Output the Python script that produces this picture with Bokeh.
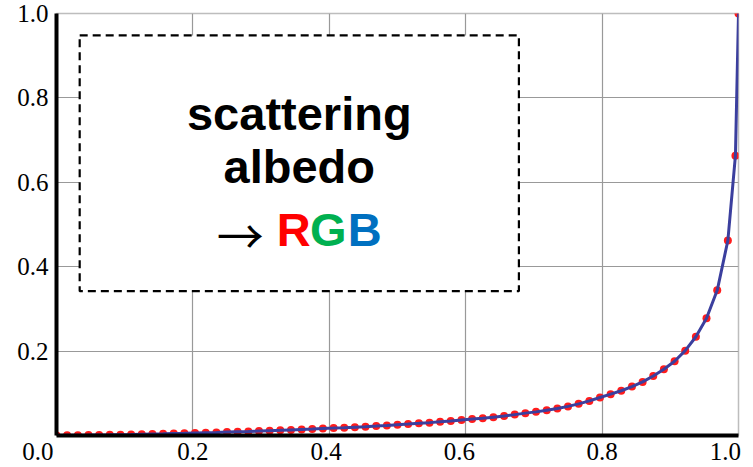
from bokeh.plotting import figure
from bokeh.models import Range1d, FixedTicker, BoxAnnotation, Label, PrintfTickFormatter
from bokeh.embed import file_html
from bokeh.resources import INLINE

# ---- data ----
albedo_x = [
    0.0, 0.0156, 0.0313, 0.0469, 0.0625, 0.0781, 0.0938, 0.1094, 0.125, 0.1406,
    0.1563, 0.1719, 0.1875, 0.2031, 0.2188, 0.2344, 0.25, 0.2656, 0.2813, 0.2969,
    0.3125, 0.3281, 0.3438, 0.3594, 0.375, 0.3906, 0.4063, 0.4219, 0.4375, 0.4531,
    0.4688, 0.4844, 0.5, 0.5156, 0.5313, 0.5469, 0.5625, 0.5781, 0.5938, 0.6094,
    0.625, 0.6406, 0.6563, 0.6719, 0.6875, 0.7031, 0.7188, 0.7344, 0.75, 0.7656,
    0.7813, 0.7969, 0.8125, 0.8281, 0.8438, 0.8594, 0.875, 0.8906, 0.9063, 0.9219,
    0.9375, 0.9531, 0.9688, 0.9844, 0.9955, 1.0,
]
rgb_y = [
    0.0, 0.0003, 0.0006, 0.0009, 0.0013, 0.0016, 0.0020, 0.0024, 0.0029, 0.0034,
    0.0039, 0.0045, 0.0051, 0.0058, 0.0065, 0.0072, 0.0080, 0.0088, 0.0096, 0.0105,
    0.0114, 0.0123, 0.0133, 0.0143, 0.0153, 0.0164, 0.0175, 0.0186, 0.0198, 0.0210,
    0.0223, 0.0236, 0.0257, 0.0272, 0.0288, 0.0305, 0.0325, 0.0345, 0.0370, 0.0390,
    0.0410, 0.0435, 0.0460, 0.0495, 0.0530, 0.0560, 0.0600, 0.0640, 0.0690, 0.0750,
    0.0820, 0.0900, 0.0980, 0.1060, 0.1160, 0.1270, 0.1410, 0.1570, 0.1760, 0.2010,
    0.2340, 0.2780, 0.3440, 0.4620, 0.6630, 1.0,
]
x_ticks = [0.0, 0.2, 0.4, 0.6, 0.8, 1.0]
y_ticks = [0.2, 0.4, 0.6, 0.8, 1.0]
title_lines = ["scattering", "albedo"]
rgb_letters = ["R", "G", "B"]
rgb_colors = ["#ff0000", "#00b050", "#0070c0"]

SERIF = "'Liberation Serif', 'Times New Roman', serif"
NB = "\u00a0"

p = figure(
    width=753, height=467,
    x_range=Range1d(0, 1), y_range=Range1d(0, 1),
    output_backend="svg", toolbar_location=None,
    min_border_left=56, min_border_right=15, min_border_top=13, min_border_bottom=30,
    background_fill_color="white", border_fill_color="white",
)
p.outline_line_color = "#bdbdbd"
p.outline_line_width = 1.5

for ax, ticks in ((p.xaxis[0], x_ticks), (p.yaxis[0], y_ticks)):
    ax.ticker = FixedTicker(ticks=ticks)
    ax.formatter = PrintfTickFormatter(format="%.1f")
    ax.axis_line_color = "black"
    ax.axis_line_width = 4
    ax.major_tick_line_color = None
    ax.minor_tick_line_color = None
    ax.major_tick_out = 0
    ax.major_tick_in = 0
    ax.minor_tick_out = 0
    ax.major_label_text_font = SERIF
    ax.major_label_text_font_size = "25px"
    ax.major_label_text_color = "black"
p.xaxis[0].major_label_standoff = 2
p.yaxis[0].major_label_standoff = 8
# the reference places some x labels slightly left of their grid line
p.xaxis[0].major_label_overrides = {
    0: "0.0" + NB * 6,
    0.4: "0.4" + NB,
    0.6: "0.6" + NB * 2,
    1: "1.0" + NB * 2,
}

p.xgrid.ticker = FixedTicker(ticks=x_ticks)
p.ygrid.ticker = FixedTicker(ticks=y_ticks)
p.grid.grid_line_color = "#999999"
p.grid.grid_line_width = 1.2

p.scatter(albedo_x, rgb_y, size=8, color="#ff1c1c", line_color=None)
p.line(albedo_x, rgb_y, line_width=3, color="#3b3f9e")

box = BoxAnnotation(left=0.034, right=0.678, bottom=0.342, top=0.948,
                    fill_color="white", fill_alpha=1.0,
                    line_color="black", line_alpha=1.0, line_width=2.2,
                    line_dash="8 5")
p.add_layout(box)

for txt, yb in zip(title_lines, [0.764, 0.638]):
    p.add_layout(Label(x=0.356, y=yb, text=txt, text_align="center",
                       text_baseline="alphabetic", text_font="Liberation Sans",
                       text_font_style="bold", text_font_size="47px",
                       text_color="black"))

p.add_layout(Label(x=0.2695, y=0.478, text="\u2192", text_align="center",
                   text_baseline="alphabetic", text_font="Noto Sans CJK JP",
                   text_font_size="47px", text_color="black"))
for letter, col, xc in zip(rgb_letters, rgb_colors, [0.348, 0.3985, 0.452]):
    p.add_layout(Label(x=xc, y=0.489, text=letter, text_align="center",
                       text_baseline="alphabetic", text_font="Liberation Sans",
                       text_font_style="bold", text_font_size="47px",
                       text_color=col))

open("out.html", "w").write(file_html(p, INLINE))
